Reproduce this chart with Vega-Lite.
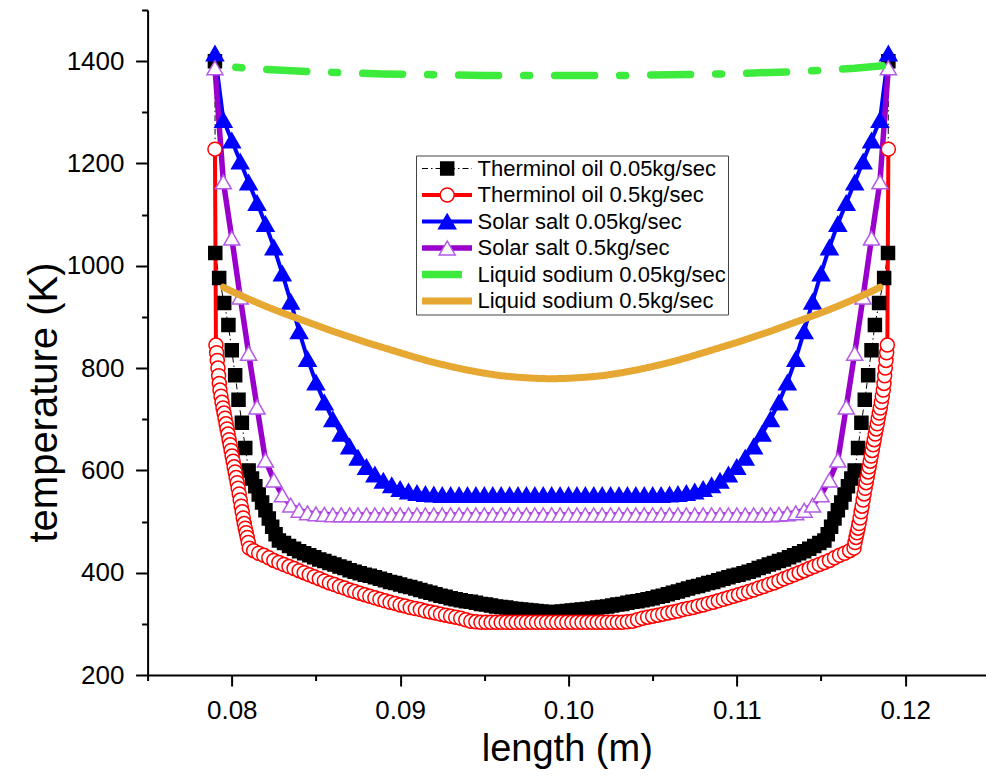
{
"$schema":"https://vega.github.io/schema/vega-lite/v6.json",
"width":838.4,"height":665,
"autosize":{"type":"none"},
"padding":{"left":147.6,"top":10,"right":0,"bottom":107},
"background":"white",
"config":{"view":{"stroke":null},
"axis":{"grid":false,"domainColor":"black","domainWidth":2,"tickColor":"black","tickWidth":2,"labelColor":"black","labelFont":"Liberation Sans","labelFontSize":26,"titleFont":"Liberation Sans","titleFontSize":38,"titleFontWeight":"normal","titleColor":"black","labelFlush":false,"labelOverlap":false,"labelBound":false},
"legend":{"labelFont":"Liberation Sans"}},
"data":{"values":[
{"s":"a","x":0.079,"y":1400},{"s":"a","x":0.07902,"y":1025},{"s":"a","x":0.07925,"y":976},{"s":"a","x":0.07955,"y":927},{"s":"a","x":0.0798,"y":884},{"s":"a","x":0.08,"y":835},{"s":"a","x":0.0802,"y":786},{"s":"a","x":0.0804,"y":738},{"s":"a","x":0.0806,"y":693},{"s":"a","x":0.0808,"y":644},{"s":"a","x":0.081,"y":600},{"s":"a","x":0.0812,"y":584},{"s":"a","x":0.0814,"y":569},{"s":"a","x":0.0816,"y":553},{"s":"a","x":0.0818,"y":537},{"s":"a","x":0.082,"y":522},{"s":"a","x":0.0822,"y":506},{"s":"a","x":0.0824,"y":490},{"s":"a","x":0.0826,"y":475},{"s":"a","x":0.0828,"y":463},{"s":"a","x":0.0831,"y":458},{"s":"a","x":0.0834,"y":452},{"s":"a","x":0.0837,"y":447},{"s":"a","x":0.084,"y":442},{"s":"a","x":0.0843,"y":438},{"s":"a","x":0.0846,"y":434},{"s":"a","x":0.0849,"y":430},{"s":"a","x":0.0852,"y":426},{"s":"a","x":0.0855,"y":423},{"s":"a","x":0.0858,"y":419},{"s":"a","x":0.0861,"y":416},{"s":"a","x":0.0864,"y":412},{"s":"a","x":0.0867,"y":409},{"s":"a","x":0.087,"y":405},{"s":"a","x":0.0873,"y":402},{"s":"a","x":0.0876,"y":399},{"s":"a","x":0.0879,"y":396},{"s":"a","x":0.0882,"y":394},{"s":"a","x":0.0885,"y":391},{"s":"a","x":0.0888,"y":388},{"s":"a","x":0.0891,"y":385},{"s":"a","x":0.0894,"y":382},{"s":"a","x":0.0897,"y":380},{"s":"a","x":0.09,"y":377},{"s":"a","x":0.0903,"y":374},{"s":"a","x":0.0906,"y":372},{"s":"a","x":0.0909,"y":369},{"s":"a","x":0.0912,"y":366},{"s":"a","x":0.0915,"y":363},{"s":"a","x":0.0918,"y":361},{"s":"a","x":0.0921,"y":358},{"s":"a","x":0.0924,"y":355},{"s":"a","x":0.0927,"y":353},{"s":"a","x":0.093,"y":350},{"s":"a","x":0.0933,"y":348},{"s":"a","x":0.0936,"y":346},{"s":"a","x":0.0939,"y":344},{"s":"a","x":0.0942,"y":343},{"s":"a","x":0.0945,"y":341},{"s":"a","x":0.0948,"y":339},{"s":"a","x":0.0951,"y":338},{"s":"a","x":0.0954,"y":336},{"s":"a","x":0.0957,"y":334},{"s":"a","x":0.096,"y":333},{"s":"a","x":0.0963,"y":332},{"s":"a","x":0.0966,"y":330},{"s":"a","x":0.0969,"y":329},{"s":"a","x":0.0972,"y":328},{"s":"a","x":0.0975,"y":327},{"s":"a","x":0.0978,"y":326},{"s":"a","x":0.0981,"y":325},{"s":"a","x":0.0984,"y":324},{"s":"a","x":0.0987,"y":323},{"s":"a","x":0.099,"y":322},
{"s":"a","x":0.0993,"y":323},{"s":"a","x":0.0996,"y":324},{"s":"a","x":0.0999,"y":325},{"s":"a","x":0.1002,"y":326},{"s":"a","x":0.1005,"y":327},{"s":"a","x":0.1008,"y":328},{"s":"a","x":0.1011,"y":329},{"s":"a","x":0.1014,"y":330},{"s":"a","x":0.1017,"y":332},{"s":"a","x":0.102,"y":333},{"s":"a","x":0.1023,"y":334},{"s":"a","x":0.1026,"y":336},{"s":"a","x":0.1029,"y":338},{"s":"a","x":0.1032,"y":339},{"s":"a","x":0.1035,"y":341},{"s":"a","x":0.1038,"y":343},{"s":"a","x":0.1041,"y":344},{"s":"a","x":0.1044,"y":346},{"s":"a","x":0.1047,"y":348},{"s":"a","x":0.105,"y":350},{"s":"a","x":0.1053,"y":353},{"s":"a","x":0.1056,"y":355},{"s":"a","x":0.1059,"y":358},{"s":"a","x":0.1062,"y":361},{"s":"a","x":0.1065,"y":363},{"s":"a","x":0.1068,"y":366},{"s":"a","x":0.1071,"y":369},{"s":"a","x":0.1074,"y":372},{"s":"a","x":0.1077,"y":374},{"s":"a","x":0.108,"y":377},{"s":"a","x":0.1083,"y":380},{"s":"a","x":0.1086,"y":382},{"s":"a","x":0.1089,"y":385},{"s":"a","x":0.1092,"y":388},{"s":"a","x":0.1095,"y":391},{"s":"a","x":0.1098,"y":394},{"s":"a","x":0.1101,"y":396},{"s":"a","x":0.1104,"y":399},{"s":"a","x":0.1107,"y":402},{"s":"a","x":0.111,"y":405},{"s":"a","x":0.1113,"y":409},{"s":"a","x":0.1116,"y":412},{"s":"a","x":0.1119,"y":416},{"s":"a","x":0.1122,"y":419},{"s":"a","x":0.1125,"y":423},{"s":"a","x":0.1128,"y":426},{"s":"a","x":0.1131,"y":430},{"s":"a","x":0.1134,"y":434},{"s":"a","x":0.1137,"y":438},{"s":"a","x":0.114,"y":442},{"s":"a","x":0.1143,"y":447},{"s":"a","x":0.1146,"y":452},{"s":"a","x":0.1149,"y":458},{"s":"a","x":0.1152,"y":463},{"s":"a","x":0.1154,"y":475},{"s":"a","x":0.1156,"y":490},{"s":"a","x":0.1158,"y":506},{"s":"a","x":0.116,"y":522},{"s":"a","x":0.1162,"y":537},{"s":"a","x":0.1164,"y":553},{"s":"a","x":0.1166,"y":569},{"s":"a","x":0.1168,"y":584},{"s":"a","x":0.117,"y":600},{"s":"a","x":0.1172,"y":644},{"s":"a","x":0.1174,"y":693},{"s":"a","x":0.1176,"y":738},{"s":"a","x":0.1178,"y":786},{"s":"a","x":0.118,"y":835},{"s":"a","x":0.1182,"y":884},{"s":"a","x":0.11845,"y":927},{"s":"a","x":0.11875,"y":976},{"s":"a","x":0.11898,"y":1025},{"s":"a","x":0.119,"y":1400},
{"s":"b","x":0.079,"y":1228},{"s":"b","x":0.07906,"y":845},{"s":"b","x":0.0791,"y":830},{"s":"b","x":0.07914,"y":815},{"s":"b","x":0.07918,"y":800},{"s":"b","x":0.07922,"y":785},{"s":"b","x":0.07926,"y":770},{"s":"b","x":0.0793,"y":757},{"s":"b","x":0.07936,"y":745},{"s":"b","x":0.07942,"y":733},{"s":"b","x":0.07948,"y":722},{"s":"b","x":0.07954,"y":712},{"s":"b","x":0.0796,"y":702},{"s":"b","x":0.07966,"y":691},{"s":"b","x":0.07972,"y":681},{"s":"b","x":0.07978,"y":671},{"s":"b","x":0.07984,"y":660},{"s":"b","x":0.0799,"y":650},{"s":"b","x":0.07996,"y":639},{"s":"b","x":0.08002,"y":628},{"s":"b","x":0.08008,"y":618},{"s":"b","x":0.08014,"y":607},{"s":"b","x":0.0802,"y":597},{"s":"b","x":0.08026,"y":586},{"s":"b","x":0.08032,"y":576},{"s":"b","x":0.08038,"y":565},{"s":"b","x":0.08044,"y":554},{"s":"b","x":0.0805,"y":542},{"s":"b","x":0.08056,"y":530},{"s":"b","x":0.08062,"y":519},{"s":"b","x":0.08068,"y":507},{"s":"b","x":0.08074,"y":496},{"s":"b","x":0.0808,"y":487},{"s":"b","x":0.08086,"y":478},{"s":"b","x":0.08092,"y":469},{"s":"b","x":0.08098,"y":459},{"s":"b","x":0.08104,"y":448},
{"s":"b","x":0.0813,"y":443},{"s":"b","x":0.0816,"y":438},{"s":"b","x":0.0819,"y":434},{"s":"b","x":0.0822,"y":429},{"s":"b","x":0.0825,"y":424},{"s":"b","x":0.0828,"y":420},{"s":"b","x":0.0831,"y":416},{"s":"b","x":0.0834,"y":412},{"s":"b","x":0.0837,"y":408},{"s":"b","x":0.084,"y":404},{"s":"b","x":0.0843,"y":400},{"s":"b","x":0.0846,"y":396},{"s":"b","x":0.0849,"y":392},{"s":"b","x":0.0852,"y":388},{"s":"b","x":0.0855,"y":384},{"s":"b","x":0.0858,"y":380},{"s":"b","x":0.0861,"y":377},{"s":"b","x":0.0864,"y":373},{"s":"b","x":0.0867,"y":370},{"s":"b","x":0.087,"y":366},{"s":"b","x":0.0873,"y":363},{"s":"b","x":0.0876,"y":360},{"s":"b","x":0.0879,"y":357},{"s":"b","x":0.0882,"y":354},{"s":"b","x":0.0885,"y":351},{"s":"b","x":0.0888,"y":348},{"s":"b","x":0.0891,"y":345},{"s":"b","x":0.0894,"y":342},{"s":"b","x":0.0897,"y":340},{"s":"b","x":0.09,"y":337},{"s":"b","x":0.0903,"y":335},{"s":"b","x":0.0906,"y":332},{"s":"b","x":0.0909,"y":330},{"s":"b","x":0.0912,"y":328},{"s":"b","x":0.0915,"y":325},{"s":"b","x":0.0918,"y":323},{"s":"b","x":0.0921,"y":321},{"s":"b","x":0.0924,"y":319},{"s":"b","x":0.0927,"y":317},{"s":"b","x":0.093,"y":315},{"s":"b","x":0.0933,"y":313},{"s":"b","x":0.0936,"y":311},{"s":"b","x":0.0939,"y":308},{"s":"b","x":0.0942,"y":305},{"s":"b","x":0.0945,"y":304},{"s":"b","x":0.0948,"y":303},{"s":"b","x":0.0951,"y":303},{"s":"b","x":0.0954,"y":303},{"s":"b","x":0.0957,"y":303},{"s":"b","x":0.096,"y":303},{"s":"b","x":0.0963,"y":303},{"s":"b","x":0.0966,"y":303},{"s":"b","x":0.0969,"y":303},{"s":"b","x":0.0972,"y":303},{"s":"b","x":0.0975,"y":303},{"s":"b","x":0.0978,"y":303},{"s":"b","x":0.0981,"y":303},{"s":"b","x":0.0984,"y":303},{"s":"b","x":0.0987,"y":303},{"s":"b","x":0.099,"y":303},
{"s":"b","x":0.0993,"y":303},{"s":"b","x":0.0996,"y":303},{"s":"b","x":0.0999,"y":303},{"s":"b","x":0.1002,"y":303},{"s":"b","x":0.1005,"y":303},{"s":"b","x":0.1008,"y":303},{"s":"b","x":0.1011,"y":303},{"s":"b","x":0.1014,"y":303},{"s":"b","x":0.1017,"y":303},{"s":"b","x":0.102,"y":303},{"s":"b","x":0.1023,"y":303},{"s":"b","x":0.1026,"y":303},{"s":"b","x":0.1029,"y":303},{"s":"b","x":0.1032,"y":303},{"s":"b","x":0.1035,"y":304},{"s":"b","x":0.1038,"y":305},{"s":"b","x":0.1041,"y":308},{"s":"b","x":0.1044,"y":311},{"s":"b","x":0.1047,"y":313},{"s":"b","x":0.105,"y":315},{"s":"b","x":0.1053,"y":317},{"s":"b","x":0.1056,"y":319},{"s":"b","x":0.1059,"y":321},{"s":"b","x":0.1062,"y":323},{"s":"b","x":0.1065,"y":325},{"s":"b","x":0.1068,"y":328},{"s":"b","x":0.1071,"y":330},{"s":"b","x":0.1074,"y":332},{"s":"b","x":0.1077,"y":335},{"s":"b","x":0.108,"y":337},{"s":"b","x":0.1083,"y":340},{"s":"b","x":0.1086,"y":342},{"s":"b","x":0.1089,"y":345},{"s":"b","x":0.1092,"y":348},{"s":"b","x":0.1095,"y":351},{"s":"b","x":0.1098,"y":354},{"s":"b","x":0.1101,"y":357},{"s":"b","x":0.1104,"y":360},{"s":"b","x":0.1107,"y":363},{"s":"b","x":0.111,"y":366},{"s":"b","x":0.1113,"y":370},{"s":"b","x":0.1116,"y":373},{"s":"b","x":0.1119,"y":377},{"s":"b","x":0.1122,"y":380},{"s":"b","x":0.1125,"y":384},{"s":"b","x":0.1128,"y":388},{"s":"b","x":0.1131,"y":392},{"s":"b","x":0.1134,"y":396},{"s":"b","x":0.1137,"y":400},{"s":"b","x":0.114,"y":404},{"s":"b","x":0.1143,"y":408},{"s":"b","x":0.1146,"y":412},{"s":"b","x":0.1149,"y":416},{"s":"b","x":0.1152,"y":420},{"s":"b","x":0.1155,"y":424},{"s":"b","x":0.1158,"y":429},{"s":"b","x":0.1161,"y":434},{"s":"b","x":0.1164,"y":438},{"s":"b","x":0.1167,"y":443},
{"s":"b","x":0.11696,"y":448},{"s":"b","x":0.11702,"y":459},{"s":"b","x":0.11708,"y":469},{"s":"b","x":0.11714,"y":478},{"s":"b","x":0.1172,"y":487},{"s":"b","x":0.11726,"y":496},{"s":"b","x":0.11732,"y":507},{"s":"b","x":0.11738,"y":519},{"s":"b","x":0.11744,"y":530},{"s":"b","x":0.1175,"y":542},{"s":"b","x":0.11756,"y":554},{"s":"b","x":0.11762,"y":565},{"s":"b","x":0.11768,"y":576},{"s":"b","x":0.11774,"y":586},{"s":"b","x":0.1178,"y":597},{"s":"b","x":0.11786,"y":607},{"s":"b","x":0.11792,"y":618},{"s":"b","x":0.11798,"y":628},{"s":"b","x":0.11804,"y":639},{"s":"b","x":0.1181,"y":650},{"s":"b","x":0.11816,"y":660},{"s":"b","x":0.11822,"y":671},{"s":"b","x":0.11828,"y":681},{"s":"b","x":0.11834,"y":691},{"s":"b","x":0.1184,"y":702},{"s":"b","x":0.11846,"y":712},{"s":"b","x":0.11852,"y":722},{"s":"b","x":0.11858,"y":733},{"s":"b","x":0.11864,"y":745},{"s":"b","x":0.1187,"y":757},{"s":"b","x":0.11874,"y":770},{"s":"b","x":0.11878,"y":785},{"s":"b","x":0.11882,"y":800},{"s":"b","x":0.11886,"y":815},{"s":"b","x":0.1189,"y":830},{"s":"b","x":0.11894,"y":845},{"s":"b","x":0.119,"y":1228},
{"s":"c","x":0.079,"y":1415},{"s":"c","x":0.0795,"y":1285},{"s":"c","x":0.08,"y":1245},{"s":"c","x":0.0805,"y":1204},{"s":"c","x":0.081,"y":1163},{"s":"c","x":0.0815,"y":1123},{"s":"c","x":0.082,"y":1082},{"s":"c","x":0.0825,"y":1036},{"s":"c","x":0.083,"y":985},{"s":"c","x":0.0835,"y":930},{"s":"c","x":0.084,"y":872},{"s":"c","x":0.0845,"y":818},{"s":"c","x":0.085,"y":772},{"s":"c","x":0.0855,"y":733},{"s":"c","x":0.086,"y":700},{"s":"c","x":0.0865,"y":672},{"s":"c","x":0.087,"y":647},{"s":"c","x":0.0875,"y":625},{"s":"c","x":0.088,"y":607},{"s":"c","x":0.0885,"y":592},{"s":"c","x":0.089,"y":580},{"s":"c","x":0.0895,"y":571},{"s":"c","x":0.09,"y":564},{"s":"c","x":0.0905,"y":559},{"s":"c","x":0.091,"y":556},{"s":"c","x":0.0915,"y":554},{"s":"c","x":0.092,"y":553},{"s":"c","x":0.0925,"y":552},{"s":"c","x":0.093,"y":552},{"s":"c","x":0.0935,"y":552},{"s":"c","x":0.094,"y":552},{"s":"c","x":0.0945,"y":552},{"s":"c","x":0.095,"y":552},{"s":"c","x":0.0955,"y":552},{"s":"c","x":0.096,"y":552},{"s":"c","x":0.0965,"y":552},{"s":"c","x":0.097,"y":552},{"s":"c","x":0.0975,"y":552},{"s":"c","x":0.098,"y":552},{"s":"c","x":0.0985,"y":552},{"s":"c","x":0.099,"y":552},{"s":"c","x":0.0995,"y":552},{"s":"c","x":0.1,"y":552},{"s":"c","x":0.1005,"y":552},{"s":"c","x":0.101,"y":552},{"s":"c","x":0.1015,"y":552},{"s":"c","x":0.102,"y":552},{"s":"c","x":0.1025,"y":552},{"s":"c","x":0.103,"y":552},{"s":"c","x":0.1035,"y":552},{"s":"c","x":0.104,"y":552},{"s":"c","x":0.1045,"y":552},{"s":"c","x":0.105,"y":552},{"s":"c","x":0.1055,"y":552},{"s":"c","x":0.106,"y":553},{"s":"c","x":0.1065,"y":554},{"s":"c","x":0.107,"y":556},{"s":"c","x":0.1075,"y":559},{"s":"c","x":0.108,"y":564},{"s":"c","x":0.1085,"y":571},{"s":"c","x":0.109,"y":580},{"s":"c","x":0.1095,"y":592},{"s":"c","x":0.11,"y":607},{"s":"c","x":0.1105,"y":625},{"s":"c","x":0.111,"y":647},{"s":"c","x":0.1115,"y":672},{"s":"c","x":0.112,"y":700},{"s":"c","x":0.1125,"y":733},{"s":"c","x":0.113,"y":772},{"s":"c","x":0.1135,"y":818},{"s":"c","x":0.114,"y":872},{"s":"c","x":0.1145,"y":930},{"s":"c","x":0.115,"y":985},{"s":"c","x":0.1155,"y":1036},{"s":"c","x":0.116,"y":1082},{"s":"c","x":0.1165,"y":1123},{"s":"c","x":0.117,"y":1163},{"s":"c","x":0.1175,"y":1204},{"s":"c","x":0.118,"y":1245},{"s":"c","x":0.1185,"y":1285},{"s":"c","x":0.119,"y":1415},
{"s":"d","x":0.079,"y":1387},{"s":"d","x":0.0795,"y":1164},{"s":"d","x":0.08,"y":1054},{"s":"d","x":0.0805,"y":939},{"s":"d","x":0.081,"y":829},{"s":"d","x":0.0815,"y":724},{"s":"d","x":0.082,"y":620},{"s":"d","x":0.0825,"y":581},{"s":"d","x":0.083,"y":552},{"s":"d","x":0.0835,"y":532},{"s":"d","x":0.084,"y":522},{"s":"d","x":0.0845,"y":517},{"s":"d","x":0.085,"y":515},{"s":"d","x":0.0855,"y":514},{"s":"d","x":0.086,"y":513},{"s":"d","x":0.0865,"y":513},{"s":"d","x":0.087,"y":513},{"s":"d","x":0.0875,"y":513},{"s":"d","x":0.088,"y":513},{"s":"d","x":0.0885,"y":513},{"s":"d","x":0.089,"y":513},{"s":"d","x":0.0895,"y":513},{"s":"d","x":0.09,"y":513},{"s":"d","x":0.0905,"y":513},{"s":"d","x":0.091,"y":513},{"s":"d","x":0.0915,"y":513},{"s":"d","x":0.092,"y":513},{"s":"d","x":0.0925,"y":513},{"s":"d","x":0.093,"y":513},{"s":"d","x":0.0935,"y":513},{"s":"d","x":0.094,"y":513},{"s":"d","x":0.0945,"y":513},{"s":"d","x":0.095,"y":513},{"s":"d","x":0.0955,"y":513},{"s":"d","x":0.096,"y":513},{"s":"d","x":0.0965,"y":513},{"s":"d","x":0.097,"y":513},{"s":"d","x":0.0975,"y":513},{"s":"d","x":0.098,"y":513},{"s":"d","x":0.0985,"y":513},{"s":"d","x":0.099,"y":513},{"s":"d","x":0.0995,"y":513},{"s":"d","x":0.1,"y":513},{"s":"d","x":0.1005,"y":513},{"s":"d","x":0.101,"y":513},{"s":"d","x":0.1015,"y":513},{"s":"d","x":0.102,"y":513},{"s":"d","x":0.1025,"y":513},{"s":"d","x":0.103,"y":513},{"s":"d","x":0.1035,"y":513},{"s":"d","x":0.104,"y":513},{"s":"d","x":0.1045,"y":513},{"s":"d","x":0.105,"y":513},{"s":"d","x":0.1055,"y":513},{"s":"d","x":0.106,"y":513},{"s":"d","x":0.1065,"y":513},{"s":"d","x":0.107,"y":513},{"s":"d","x":0.1075,"y":513},{"s":"d","x":0.108,"y":513},{"s":"d","x":0.1085,"y":513},{"s":"d","x":0.109,"y":513},{"s":"d","x":0.1095,"y":513},{"s":"d","x":0.11,"y":513},{"s":"d","x":0.1105,"y":513},{"s":"d","x":0.111,"y":513},{"s":"d","x":0.1115,"y":513},{"s":"d","x":0.112,"y":513},{"s":"d","x":0.1125,"y":514},{"s":"d","x":0.113,"y":515},{"s":"d","x":0.1135,"y":517},{"s":"d","x":0.114,"y":522},{"s":"d","x":0.1145,"y":532},{"s":"d","x":0.115,"y":552},{"s":"d","x":0.1155,"y":581},{"s":"d","x":0.116,"y":620},{"s":"d","x":0.1165,"y":724},{"s":"d","x":0.117,"y":829},{"s":"d","x":0.1175,"y":939},{"s":"d","x":0.118,"y":1054},{"s":"d","x":0.1185,"y":1164},{"s":"d","x":0.119,"y":1387},
{"s":"e","x":0.0795,"y":1390},{"s":"e","x":0.081,"y":1386},{"s":"e","x":0.083,"y":1382},{"s":"e","x":0.085,"y":1379},{"s":"e","x":0.087,"y":1377},{"s":"e","x":0.089,"y":1375},{"s":"e","x":0.091,"y":1374},{"s":"e","x":0.093,"y":1373},{"s":"e","x":0.095,"y":1372},{"s":"e","x":0.097,"y":1372},{"s":"e","x":0.099,"y":1372},{"s":"e","x":0.101,"y":1372},{"s":"e","x":0.103,"y":1372},{"s":"e","x":0.105,"y":1373},{"s":"e","x":0.107,"y":1374},{"s":"e","x":0.109,"y":1375},{"s":"e","x":0.111,"y":1377},{"s":"e","x":0.113,"y":1379},{"s":"e","x":0.115,"y":1382},{"s":"e","x":0.117,"y":1386},{"s":"e","x":0.119,"y":1392},
{"s":"f","x":0.0795,"y":958},{"s":"f","x":0.08,"y":950},{"s":"f","x":0.081,"y":935},{"s":"f","x":0.082,"y":921},{"s":"f","x":0.083,"y":908},{"s":"f","x":0.084,"y":896},{"s":"f","x":0.085,"y":884},{"s":"f","x":0.086,"y":872},{"s":"f","x":0.087,"y":861},{"s":"f","x":0.088,"y":850},{"s":"f","x":0.089,"y":840},{"s":"f","x":0.09,"y":830},{"s":"f","x":0.091,"y":820},{"s":"f","x":0.092,"y":811},{"s":"f","x":0.093,"y":803},{"s":"f","x":0.094,"y":796},{"s":"f","x":0.095,"y":790},{"s":"f","x":0.096,"y":785},{"s":"f","x":0.097,"y":782},{"s":"f","x":0.098,"y":780},{"s":"f","x":0.099,"y":779},{"s":"f","x":0.1,"y":780},{"s":"f","x":0.101,"y":782},{"s":"f","x":0.102,"y":785},{"s":"f","x":0.103,"y":790},{"s":"f","x":0.104,"y":796},{"s":"f","x":0.105,"y":803},{"s":"f","x":0.106,"y":811},{"s":"f","x":0.107,"y":820},{"s":"f","x":0.108,"y":830},{"s":"f","x":0.109,"y":840},{"s":"f","x":0.11,"y":850},{"s":"f","x":0.111,"y":861},{"s":"f","x":0.112,"y":872},{"s":"f","x":0.113,"y":884},{"s":"f","x":0.114,"y":896},{"s":"f","x":0.115,"y":908},{"s":"f","x":0.116,"y":921},{"s":"f","x":0.117,"y":935},{"s":"f","x":0.118,"y":950},{"s":"f","x":0.1185,"y":958}
]},
"encoding":{
"x":{"field":"x","type":"quantitative","scale":{"domain":[0.075,0.1248],"nice":false,"zero":false},
"axis":{"title":"length (m)","values":[0.075,0.08,0.085,0.09,0.095,0.1,0.105,0.11,0.115,0.12],"labelExpr":"abs(datum.value*100 - round(datum.value*100)) < 0.01 ? format(datum.value, '.2f') : ''","tickSize":{"condition":{"test":"abs(datum.value*100 - round(datum.value*100)) < 0.01","value":11},"value":5.5},"labelPadding":11,"titlePadding":7}},
"y":{"field":"y","type":"quantitative","scale":{"domain":[200,1500],"nice":false,"zero":false},
"axis":{"title":"temperature (K)","values":[200,300,400,500,600,700,800,900,1000,1100,1200,1300,1400,1500],"format":"d","labelExpr":"datum.value % 200 == 0 ? datum.label : ''","tickSize":{"condition":{"test":"datum.value % 200 == 0","value":12},"value":6},"labelPadding":11.6,"titleAngle":270,"titleX":-103,"titleY":392,"titleAlign":"center","titleBaseline":"middle","titleFontSize":40}}
},
"layer":[
{"transform":[{"filter":{"field":"s","oneOf":["a","b","c","d"]}}],
"mark":{"type":"line","strokeJoin":"round"},
"encoding":{
"stroke":{"field":"s","type":"nominal","scale":{"domain":["a","b","c","d","e","f"],"range":["#000000","#FF0000","#0000FF","#9900CC","#3DEB3D","#E6A832"]},"legend":{"orient":"none","legendX":268.4,"legendY":145.5,"title":null,"direction":"vertical","symbolType":"stroke","symbolSize":2500,"clipHeight":22,"rowPadding":4.5,"padding":2,"labelOffset":1.5,"labelFontSize":22,"labelColor":"black","labelLimit":400,"strokeColor":"#444444","labelExpr":"datum.label == 'a' ? 'Therminol oil 0.05kg/sec' : datum.label == 'b' ? 'Therminol oil 0.5kg/sec' : datum.label == 'c' ? 'Solar salt 0.05kg/sec' : datum.label == 'd' ? 'Solar salt 0.5kg/sec' : datum.label == 'e' ? 'Liquid sodium 0.05kg/sec' : 'Liquid sodium 0.5kg/sec'"}},
"strokeDash":{"field":"s","type":"nominal","scale":{"domain":["a","b","c","d","e","f"],"range":[[6,3,1.5,3],[1,0],[1,0],[1,0],[40,25,6,25],[1,0]]},"legend":{"orient":"none","legendX":268.4,"legendY":145.5,"title":null,"direction":"vertical","symbolType":"stroke","symbolSize":2500,"clipHeight":22,"rowPadding":4.5,"padding":2,"labelOffset":1.5,"labelFontSize":22,"labelColor":"black","labelLimit":400,"strokeColor":"#444444","labelExpr":"datum.label == 'a' ? 'Therminol oil 0.05kg/sec' : datum.label == 'b' ? 'Therminol oil 0.5kg/sec' : datum.label == 'c' ? 'Solar salt 0.05kg/sec' : datum.label == 'd' ? 'Solar salt 0.5kg/sec' : datum.label == 'e' ? 'Liquid sodium 0.05kg/sec' : 'Liquid sodium 0.5kg/sec'"}},
"strokeWidth":{"field":"s","type":"nominal","scale":{"type":"ordinal","domain":["a","b","c","d","e","f"],"range":[1,4,4,5.5,7.5,7]},"legend":{"orient":"none","legendX":268.4,"legendY":145.5,"title":null,"direction":"vertical","symbolType":"stroke","symbolSize":2500,"clipHeight":22,"rowPadding":4.5,"padding":2,"labelOffset":1.5,"labelFontSize":22,"labelColor":"black","labelLimit":400,"strokeColor":"#444444","labelExpr":"datum.label == 'a' ? 'Therminol oil 0.05kg/sec' : datum.label == 'b' ? 'Therminol oil 0.5kg/sec' : datum.label == 'c' ? 'Solar salt 0.05kg/sec' : datum.label == 'd' ? 'Solar salt 0.5kg/sec' : datum.label == 'e' ? 'Liquid sodium 0.05kg/sec' : 'Liquid sodium 0.5kg/sec'"}}
}},
{"transform":[{"filter":{"field":"s","oneOf":["a","b","c","d"]}}],
"mark":{"type":"point","filled":false,"opacity":1,"strokeWidth":1.5},
"encoding":{
"color":{"field":"s","type":"nominal","scale":{"domain":["a","b","c","d"],"range":["#000000","#FF0000","#0000FF","#B45AE6"]},"legend":{"orient":"none","legendX":286.6,"legendY":145.5,"title":null,"direction":"vertical","clipHeight":22,"rowPadding":4.5,"padding":2,"labelOffset":4,"labelFontSize":22,"labelOpacity":0,"symbolStrokeWidth":1.5,"symbolOpacity":1}},
"fill":{"field":"s","type":"nominal","scale":{"domain":["a","b","c","d"],"range":["#000000","#FFFFFF","#0000FF","#FFFFFF"]},"legend":{"orient":"none","legendX":286.6,"legendY":145.5,"title":null,"direction":"vertical","clipHeight":22,"rowPadding":4.5,"padding":2,"labelOffset":4,"labelFontSize":22,"labelOpacity":0,"symbolStrokeWidth":1.5,"symbolOpacity":1}},
"shape":{"field":"s","type":"nominal","scale":{"domain":["a","b","c","d"],"range":["square","circle","triangle-up","triangle-up"]},"legend":{"orient":"none","legendX":286.6,"legendY":145.5,"title":null,"direction":"vertical","clipHeight":22,"rowPadding":4.5,"padding":2,"labelOffset":4,"labelFontSize":22,"labelOpacity":0,"symbolStrokeWidth":1.5,"symbolOpacity":1}},
"size":{"field":"s","type":"nominal","scale":{"type":"ordinal","domain":["a","b","c","d"],"range":[169,196,289,256]},"legend":{"orient":"none","legendX":286.6,"legendY":145.5,"title":null,"direction":"vertical","clipHeight":22,"rowPadding":4.5,"padding":2,"labelOffset":4,"labelFontSize":22,"labelOpacity":0,"symbolStrokeWidth":1.5,"symbolOpacity":1}}
}},
{"transform":[{"filter":{"field":"s","oneOf":["e","f"]}}],
"mark":{"type":"line","strokeCap":"round","strokeJoin":"round","strokeDashOffset":52.5},
"encoding":{
"stroke":{"field":"s","type":"nominal","scale":{"domain":["a","b","c","d","e","f"],"range":["#000000","#FF0000","#0000FF","#9900CC","#3DEB3D","#E6A832"]},"legend":{"orient":"none","legendX":268.4,"legendY":145.5,"title":null,"direction":"vertical","symbolType":"stroke","symbolSize":2500,"clipHeight":22,"rowPadding":4.5,"padding":2,"labelOffset":1.5,"labelFontSize":22,"labelColor":"black","labelLimit":400,"strokeColor":"#444444","labelExpr":"datum.label == 'a' ? 'Therminol oil 0.05kg/sec' : datum.label == 'b' ? 'Therminol oil 0.5kg/sec' : datum.label == 'c' ? 'Solar salt 0.05kg/sec' : datum.label == 'd' ? 'Solar salt 0.5kg/sec' : datum.label == 'e' ? 'Liquid sodium 0.05kg/sec' : 'Liquid sodium 0.5kg/sec'"}},
"strokeDash":{"field":"s","type":"nominal","scale":{"domain":["a","b","c","d","e","f"],"range":[[6,3,1.5,3],[1,0],[1,0],[1,0],[40,25,6,25],[1,0]]},"legend":{"orient":"none","legendX":268.4,"legendY":145.5,"title":null,"direction":"vertical","symbolType":"stroke","symbolSize":2500,"clipHeight":22,"rowPadding":4.5,"padding":2,"labelOffset":1.5,"labelFontSize":22,"labelColor":"black","labelLimit":400,"strokeColor":"#444444","labelExpr":"datum.label == 'a' ? 'Therminol oil 0.05kg/sec' : datum.label == 'b' ? 'Therminol oil 0.5kg/sec' : datum.label == 'c' ? 'Solar salt 0.05kg/sec' : datum.label == 'd' ? 'Solar salt 0.5kg/sec' : datum.label == 'e' ? 'Liquid sodium 0.05kg/sec' : 'Liquid sodium 0.5kg/sec'"}},
"strokeWidth":{"field":"s","type":"nominal","scale":{"type":"ordinal","domain":["a","b","c","d","e","f"],"range":[1,4,4,5.5,7.5,7]},"legend":{"orient":"none","legendX":268.4,"legendY":145.5,"title":null,"direction":"vertical","symbolType":"stroke","symbolSize":2500,"clipHeight":22,"rowPadding":4.5,"padding":2,"labelOffset":1.5,"labelFontSize":22,"labelColor":"black","labelLimit":400,"strokeColor":"#444444","labelExpr":"datum.label == 'a' ? 'Therminol oil 0.05kg/sec' : datum.label == 'b' ? 'Therminol oil 0.5kg/sec' : datum.label == 'c' ? 'Solar salt 0.05kg/sec' : datum.label == 'd' ? 'Solar salt 0.5kg/sec' : datum.label == 'e' ? 'Liquid sodium 0.05kg/sec' : 'Liquid sodium 0.5kg/sec'"}}
}}
]
}
